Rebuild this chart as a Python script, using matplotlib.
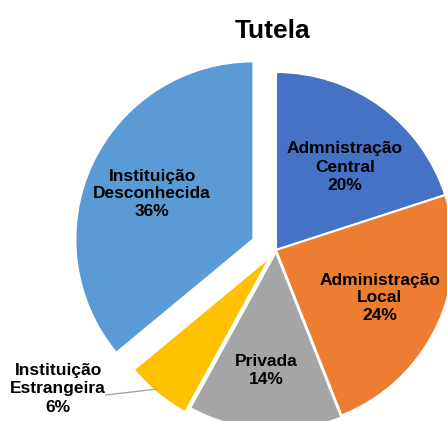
import matplotlib
matplotlib.use("Agg")
import matplotlib.pyplot as plt
from matplotlib import font_manager as fm

categories = ["Admnistração\nCentral", "Administração\nLocal", "Privada",
              "Instituição\nEstrangeira", "Instituição\nDesconhecida"]
values = [20, 24, 14, 6, 36]
pct_labels = ["20%", "24%", "14%", "6%", "36%"]
colors = ["#4472C4", "#ED7D31", "#A5A5A5", "#FFC000", "#5B9BD5"]
explode_px = [0, 0, 2, 8, 25]

names = {f.name for f in fm.fontManager.ttflist}
fam = ["Liberation Sans Narrow"] if "Liberation Sans Narrow" in names else ["Liberation Sans"]
fam = fam + ["DejaVu Sans"]
plt.rcParams["font.family"] = fam

W, H = 447, 421
fig = plt.figure(figsize=(W / 100, H / 100), dpi=100)
ax = fig.add_axes([0, 0, 1, 1])
cx, cy, R = 276, H - 250, 178
wedges, _ = ax.pie(values, colors=colors, explode=explode_px, startangle=90,
                   counterclock=False, center=(cx, cy), radius=R,
                   wedgeprops=dict(edgecolor="white", linewidth=1.5))
ax.set_xlim(0, W)
ax.set_ylim(0, H)
ax.set_aspect("auto")
ax.axis("off")

fs = 12.5
pos = {0: (345, 167), 1: (380, 298), 2: (266, 370), 4: (152, 194)}
for i, (x, y) in pos.items():
    ax.text(x, H - y, categories[i] + "\n" + pct_labels[i], ha="center", va="center",
            fontsize=fs, fontweight="bold", color="black", linespacing=1.25)
ax.text(58, H - 389, categories[3] + "\n" + pct_labels[3], ha="center", va="center",
        fontsize=fs, fontweight="bold", color="black", linespacing=1.25)
ax.plot([106, 157], [H - 395, H - 389], color="#A5A5A5", lw=1)

fig.text(273 / W, 1 - 31 / H, "Tutela", ha="center", va="center",
         fontsize=19, fontweight="bold")
fig.savefig("out.png", dpi=100)
